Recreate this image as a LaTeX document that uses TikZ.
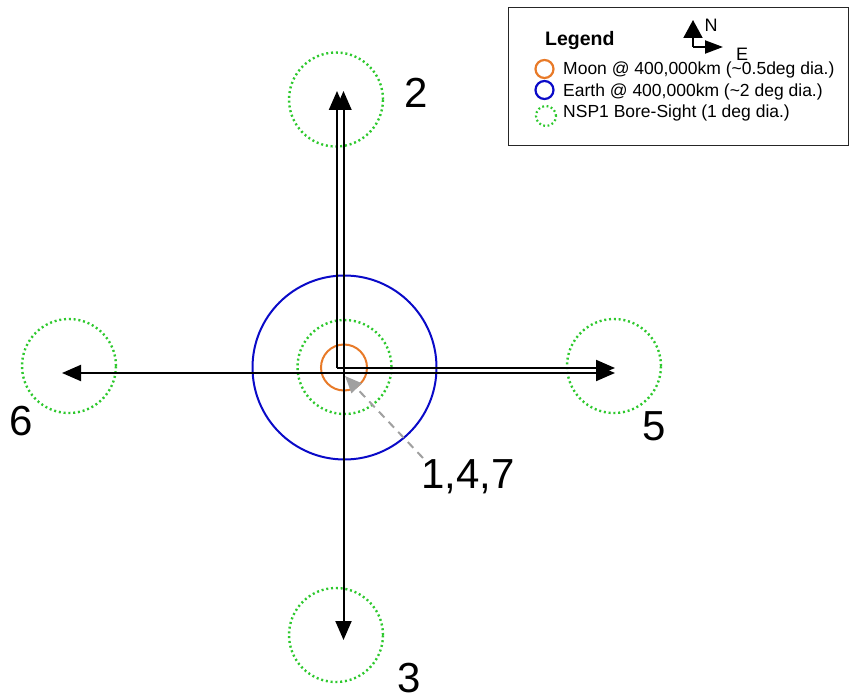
\documentclass[tikz,border=0pt]{standalone}
\usepackage{fontspec}
\setmainfont{Liberation Sans}
\usetikzlibrary{arrows.meta}
\definecolor{boregreen}{RGB}{45,200,45}
\definecolor{moonorange}{RGB}{232,122,40}
\definecolor{earthblue}{RGB}{10,10,200}
\definecolor{pointgray}{RGB}{160,160,160}
\begin{document}
\begin{tikzpicture}[x=1pt,y=-1pt,
  bore/.style={circle, draw=boregreen, line width=2.4pt, dash pattern=on 2pt off 2.8pt, inner sep=0pt, minimum size=94pt},
  ring/.style={circle, line width=2pt, inner sep=0pt},
  pathline/.style={draw=black, line width=2pt},
  tipA/.style={-{Triangle[length=19pt,width=16pt]}},
  tipB/.style={{Triangle[length=19pt,width=16pt]}-{Triangle[length=19pt,width=16pt]}},
  num/.style={font=\fontsize{42}{42}\selectfont, inner sep=0pt, anchor=base},
  legtxt/.style={font=\fontsize{17.5}{17.5}\selectfont, inner sep=0pt, anchor=base west},
  legring/.style={circle, line width=2.2pt, inner sep=0pt, minimum size=18pt},
]
\useasboundingbox (0,0) rectangle (849,698);

% bore-sight circles
\node[bore] (bc) at (344.5,367) {};
\node[bore] (bn) at (336,99.5) {};
\node[bore] (be) at (614,366) {};
\node[bore] (bw) at (69,366) {};
\node[bore] (bs) at (336,635) {};

% earth and moon
\node[ring, draw=earthblue, minimum size=184pt] (earth) at (344.5,367.5) {};
\node[ring, draw=moonorange, minimum size=46pt] (moon) at (344,367.5) {};

% path coordinates
\coordinate (corner) at (337,368);
\coordinate (topA) at (337,91);
\coordinate (rightA) at (615,368);
\coordinate (topB) at (343.5,91);
\coordinate (botB) at (343.5,640);
\coordinate (rightB) at (615,373);
\coordinate (leftB) at (62,373);

\draw[pathline, tipA] (corner) -- (topA);
\draw[pathline, tipA] (corner) -- (rightA);
\draw[pathline, tipB] (topB) -- (botB);
\draw[pathline, tipB] (rightB) -- (leftB);

% pointer to centre
\coordinate (gstart) at (423,458);
\coordinate (gtip) at (345,376);
\draw[draw=pointgray, line width=2pt, dash pattern=on 8pt off 6pt,
      -{Triangle[length=17pt,width=14pt]}] (gstart) -- (gtip);

% position labels
\node[num] (l2) at (416,108) {2};
\node[num] (l5) at (654,440) {5};
\node[num] (l6) at (21.5,435) {6};
\node[num] (l3) at (409,692) {3};
\node[num] (l147) at (468,488) {1,4,7};

% legend
\node[draw=black!85, line width=1.3pt, anchor=north west, inner sep=0pt,
      minimum width=340pt, minimum height=138pt] (legend) at (507.5,7) {};
\node[font=\bfseries\fontsize{19.5}{19.5}\selectfont, inner sep=0pt, anchor=base west] (legtitle) at (545,46) {Legend};

\node[legring, draw=moonorange] (lmoon) at (544.5,69) {};
\node[legring, draw=earthblue] (learth) at (544.5,90) {};
\node[legring, draw=boregreen, dash pattern=on 1.8pt off 2.6pt, minimum size=20pt] (lbore) at (546,116) {};
\node[legtxt] (tmoon) at (563,75) {Moon @ 400,000km (\textasciitilde0.5deg dia.)};
\node[legtxt] (tearth) at (563,96.5) {Earth @ 400,000km (\textasciitilde2 deg dia.)};
\node[legtxt] (tbore) at (563,118) {NSP1 Bore-Sight (1 deg dia.)};

% compass
\coordinate (cc) at (693,47);
\coordinate (cn) at (693,20);
\coordinate (ce) at (723,47);
\draw[line width=2pt, -{Triangle[length=18pt,width=19pt]}] (cc) -- (cn);
\draw[line width=2pt, -{Triangle[length=18pt,width=13pt]}] (cc) -- (ce);
\node[font=\fontsize{18}{18}\selectfont, inner sep=0pt] (cN) at (711,25) {N};
\node[font=\fontsize{18}{18}\selectfont, inner sep=0pt] (cE) at (742,54) {E};
\end{tikzpicture}
\end{document}
